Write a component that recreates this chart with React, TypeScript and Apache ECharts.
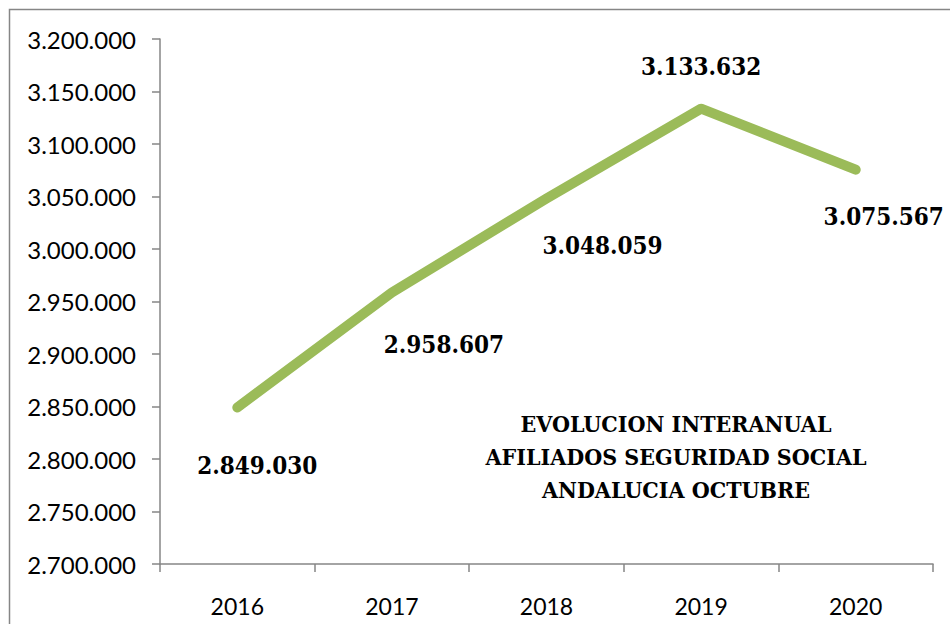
import React, { useEffect, useRef } from "react";
import * as echarts from "echarts";

const years = ["2016", "2017", "2018", "2019", "2020"];
const afiliados = [2849030, 2958607, 3048059, 3133632, 3075567];
const titleLines = ["EVOLUCION INTERANUAL", "AFILIADOS SEGURIDAD SOCIAL", "ANDALUCIA OCTUBRE"];
const labelOffsets: [number, number][] = [
  [20, 58],
  [52, 52],
  [56, 47],
  [0, -42],
  [28, 47],
];

const fmt = (v: number) => String(Math.round(v)).replace(/\B(?=(\d{3})+(?!\d))/g, ".");

export default function App() {
  const ref = useRef<HTMLDivElement>(null);
  useEffect(() => {
    document.body.style.margin = "0";
    document.body.style.overflow = "hidden";
    document.documentElement.style.overflow = "hidden";
    const chart = echarts.init(ref.current!, undefined, { renderer: "svg" });
    const axisColor = "#868686";
    chart.setOption({
      animation: false,
      backgroundColor: "#ffffff",
      grid: { left: 160, top: 39, right: 17, bottom: 60, containLabel: false },
      xAxis: {
        type: "category",
        data: years,
        boundaryGap: true,
        axisLine: { lineStyle: { color: axisColor, width: 1.5 } },
        axisTick: { show: true, length: 8, alignWithLabel: false, lineStyle: { color: axisColor, width: 1.5 } },
        axisLabel: { color: "#000", fontFamily: "Lato", fontSize: 23, margin: 30 },
      },
      yAxis: {
        type: "value",
        min: 2700000,
        max: 3200000,
        interval: 50000,
        splitLine: { show: false },
        axisLine: { show: true, lineStyle: { color: axisColor, width: 1.5 } },
        axisTick: { show: true, length: 8, lineStyle: { color: axisColor, width: 1.5 } },
        axisLabel: { color: "#000", fontFamily: "Lato", fontSize: 24, margin: 24, formatter: (v: number) => fmt(v) },
      },
      series: [
        {
          type: "line",
          data: afiliados.map((v, i) => ({ value: v, label: { offset: labelOffsets[i] } })),
          symbol: "circle",
          symbolSize: 0.1,
          showSymbol: true,
          itemStyle: { color: "#9BBB59" },
          lineStyle: { color: "#9BBB59", width: 10, cap: "round", join: "round" },
          label: {
            show: true,
            position: "inside",
            color: "#000",
            fontFamily: "DejaVu Serif Condensed",
            fontWeight: "bold",
            fontSize: 24,
            formatter: (p: any) => fmt(p.value),
          },
        },
      ],
      graphic: [
        {
          type: "rect",
          shape: { x: 9.5, y: 9.5, width: 1000, height: 1000 },
          style: { fill: "none", stroke: axisColor, lineWidth: 1.5 },
          silent: true,
        },
        {
          type: "text",
          x: 676,
          y: 456,
          style: {
            text: titleLines.join("\n"),
            fontFamily: "DejaVu Serif Condensed",
            fontWeight: "bold",
            fontSize: 23,
            lineHeight: 33,
            fill: "#000",
            align: "center",
            verticalAlign: "middle",
          },
        },
      ],
    });
    return () => chart.dispose();
  }, []);
  return <div ref={ref} style={{ position: "fixed", left: 0, top: 0, width: 950, height: 624 }} />;
}
